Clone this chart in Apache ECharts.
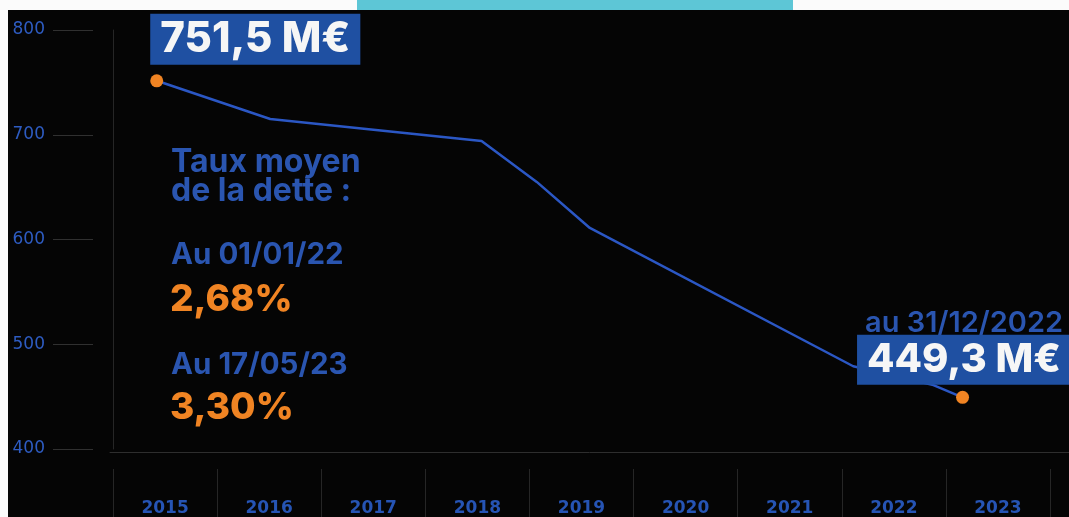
<!DOCTYPE html>
<html><head><meta charset="utf-8">
<script src="https://cdn.jsdelivr.net/npm/echarts@6/dist/echarts.min.js"></script>
<style>html,body{margin:0;padding:0;background:#050505;}#c{width:1069px;height:517px;}</style>
</head><body><div id="c"></div>
<script>
// ---- data ----
const categories = ['2015','2016','2017','2018','2019','2020','2021','2022','2023'];
const yMin = 400, yMax = 800, yStep = 100;
// debt curve (M€); x as fractional year position
const lineYears  = [2014.92, 2016.01, 2018.04, 2018.57, 2019.08, 2021.61, 2022.38, 2022.66];
const lineValues = [751.5,   715,     694,     655,     611,     479,     461,     449.3];
// highlighted points
const dotYears  = [2014.92, 2022.66];
const dotValues = [751.5, 449.3];
const dotLabels = ['751,5 M€', '449,3 M€'];
const dotNotes  = ['', 'au 31/12/2022'];
// side annotation
const rateTitle = ['Taux moyen', 'de la dette :'];
const rateDates = ['Au 01/01/22', 'Au 17/05/23'];
const rateValues = ['2,68%', '3,30%'];

// ---- chart ----
const BLUE_TXT = '#2a55b0', BOX = '#1f50a2', ORANGE = '#f08423', LINE = '#2b57c4', AX = '#2e5cc2';
const FONT = 'Inter, "Open Sans", sans-serif';
const chart = echarts.init(document.getElementById('c'), null, {renderer: 'canvas'});

const labelPos = [[0, -57], [-99, -82]];
const valueStyle = ['v', 'w'];
const dotData = dotYears.map((x, i) => ({
  value: [x, dotValues[i]],
  label: {
    show: true,
    position: labelPos[i],
    formatter: (dotNotes[i] ? '{d|' + dotNotes[i] + '}\n' : '') + '{' + valueStyle[i] + '|' + dotLabels[i] + '}'
  }
}));

const option = {
  backgroundColor: '#050505',
  animation: false,
  grid: [
    {left: 113, right: 19, top: 30, bottom: 65},
    {left: 110, right: 0, top: 30, bottom: 65}
  ],
  xAxis: [
    { type: 'category', gridIndex: 0, data: categories, offset: 20,
      boundaryGap: true,
      axisLine: {show: false},
      axisTick: {show: true, length: 50, interval: 0, lineStyle: {color: '#262626', width: 1}},
      axisLabel: {margin: 31, color: '#2654b4', fontSize: 17, fontWeight: 'bold', fontFamily: '"DejaVu Sans", sans-serif'},
      splitLine: {show: false}
    },
    { type: 'value', gridIndex: 0, min: 2014.5, max: 2023.5, show: false },
    { type: 'value', gridIndex: 1, min: 0, max: 1, axisLine: {show: true, lineStyle: {color: '#2e2e2e', width: 1}},
      axisTick: {show: false}, axisLabel: {show: false}, splitLine: {show: false} }
  ],
  yAxis: [
    { type: 'value', gridIndex: 0, min: yMin, max: yMax, interval: yStep, offset: 60,
      axisLine: {show: false},
      axisTick: {show: true, inside: true, length: 40, lineStyle: {color: '#303030', width: 1}},
      axisLabel: {margin: 8, color: AX, fontSize: 17, fontFamily: '"DejaVu Sans", sans-serif'},
      splitLine: {show: false}
    },
    { type: 'value', gridIndex: 0, min: yMin, max: yMax, interval: yStep, position: 'left',
      axisLine: {show: true, lineStyle: {color: '#262626', width: 1}},
      axisTick: {show: false}, axisLabel: {show: false}, splitLine: {show: false}
    },
    { type: 'value', gridIndex: 1, min: 0, max: 1, show: false }
  ],
  series: [
    { type: 'line', xAxisIndex: 1, yAxisIndex: 0,
      data: lineYears.map((x, i) => [x, lineValues[i]]),
      showSymbol: false, symbol: 'none',
      lineStyle: {color: LINE, width: 2.5}, z: 2
    },
    { type: 'scatter', xAxisIndex: 1, yAxisIndex: 0,
      data: dotData, symbolSize: 13,
      itemStyle: {color: ORANGE, opacity: 1},
      label: {
        opacity: 1,
        rich: {
          v: {fontSize: 42, fontWeight: 800, color: '#f6f6f6', fontFamily: FONT,
              backgroundColor: BOX, padding: [5, 10, 4, 10], lineHeight: 44},
          w: {fontSize: 40, fontWeight: 800, color: '#f6f6f6', fontFamily: FONT,
              backgroundColor: BOX, padding: [5, 10, 5, 10], lineHeight: 42},
          d: {fontSize: 29, fontWeight: 600, color: BLUE_TXT, fontFamily: FONT,
              lineHeight: 30, padding: [0, 0, 2, 8]}
        }
      },
      emphasis: {disabled: true},
      z: 5
    }
  ],
  graphic: [
    {type: 'text', x: 171, y: 162, style: {text: rateTitle[0], font: '700 32px ' + FONT, fill: BLUE_TXT, verticalAlign: 'middle'}},
    {type: 'text', x: 171, y: 191, style: {text: rateTitle[1], font: '700 32px ' + FONT, fill: BLUE_TXT, verticalAlign: 'middle'}},
    {type: 'text', x: 171, y: 255, style: {text: rateDates[0], font: '700 29.5px ' + FONT, fill: BLUE_TXT, verticalAlign: 'middle'}},
    {type: 'text', x: 170, y: 300, style: {text: rateValues[0], font: '800 37px ' + FONT, fill: ORANGE, verticalAlign: 'middle'}},
    {type: 'text', x: 171, y: 365, style: {text: rateDates[1], font: '700 29.5px ' + FONT, fill: BLUE_TXT, verticalAlign: 'middle'}},
    {type: 'text', x: 170, y: 408, style: {text: rateValues[1], font: '800 37px ' + FONT, fill: ORANGE, verticalAlign: 'middle'}},
    {type: 'rect', x: 0, y: 0, z: 100, shape: {width: 1069, height: 10}, style: {fill: '#fbfbfb'}},
    {type: 'rect', x: 357, y: 0, z: 101, shape: {width: 436, height: 10}, style: {fill: '#5dc6d6'}},
    {type: 'rect', x: 0, y: 0, z: 100, shape: {width: 8, height: 517}, style: {fill: '#fbfbfb'}}
  ]
};
chart.setOption(option);
</script>
</body></html>
